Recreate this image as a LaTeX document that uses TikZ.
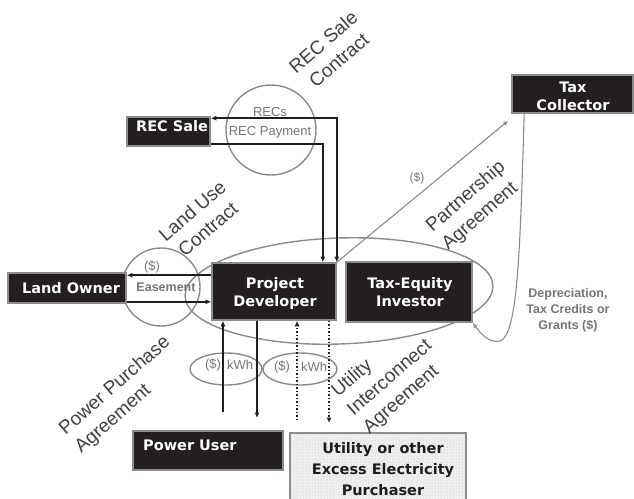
\documentclass[tikz,border=0pt]{standalone}
\usepackage{fontspec}
\setmainfont{Liberation Sans}
\newfontfamily\boxfont{DejaVu Sans}
\usetikzlibrary{shapes.geometric,arrows.meta,patterns}

\definecolor{boxfill}{HTML}{231F20}
\definecolor{boxedge}{HTML}{8C8C8C}
\definecolor{ringgray}{HTML}{8A8A8A}
\definecolor{labelgray}{HTML}{404040}
\definecolor{notegray}{HTML}{757575}
\definecolor{linedark}{HTML}{1E1E1E}

\begin{document}
\begin{tikzpicture}[x=1pt,y=-1pt,
  >={Latex[length=5.5pt,width=5pt]},
  darkbox/.style={draw=boxedge, fill=boxfill, line width=1.6pt, inner sep=0pt},
  lightbox/.style={draw=boxedge, line width=1.6pt, inner sep=0pt,
    preaction={fill=gray!12}, pattern=dots, pattern color=gray!55},
  boxtext/.style={text=white, font=\boxfont\bfseries\fontsize{14.5}{18}\selectfont,
    align=center, inner sep=0pt},
  darktext/.style={boxtext, text=linedark, font=\boxfont\bfseries\fontsize{14.5}{21}\selectfont},
  ring/.style={draw=ringgray, line width=1.4pt, inner sep=0pt},
  flow/.style={draw=linedark, line width=1.5pt},
  thinflow/.style={draw=ringgray, line width=1.1pt, >={Latex[length=5pt,width=4.5pt]}},
  rotlabel/.style={rotate=41, text=labelgray, inner sep=0pt,
    font=\fontsize{19}{24}\selectfont},
  note/.style={text=notegray, inner sep=0pt, font=\fontsize{13}{16}\selectfont},
]
\useasboundingbox (0,0) rectangle (634,498);

% contract rings
\node[ring, circle, minimum size=90pt] (rec-ring) at (271,130) {};
\node[ring, circle, minimum size=78pt] (land-ring) at (161,287) {};
\node[ring, ellipse, rotate=2, minimum width=308pt, minimum height=106pt] (partner-ring) at (339,291) {};
\node[ring, ellipse, minimum width=72pt, minimum height=32pt] (ppa-ring) at (226,369) {};
\node[ring, ellipse, minimum width=74pt, minimum height=32pt] (uia-ring) at (300,369) {};

% parties
\node[darkbox, minimum width=83pt, minimum height=29pt] (recsale) at (168.5,131.5) {};
\node[boxtext] (recsale-t) at (172,126) {REC Sale};
\node[darkbox, minimum width=121pt, minimum height=38pt] (tc) at (572.5,94) {};
\node[boxtext] (tc-t) at (573,96) {Tax\\Collector};
\node[darkbox, minimum width=118pt, minimum height=30pt] (landowner) at (67,288) {};
\node[boxtext] (landowner-t) at (71,288) {Land Owner};
\node[darkbox, minimum width=124pt, minimum height=57pt] (pd) at (274,291.5) {};
\node[boxtext] (pd-t) at (275,293) {Project\\Developer};
\node[darkbox, minimum width=126pt, minimum height=60pt] (tei) at (409,292) {};
\node[boxtext] (tei-t) at (410,292) {Tax-Equity\\Investor};
\node[darkbox, minimum width=150pt, minimum height=39pt] (pu) at (208,450.5) {};
\node[boxtext, anchor=west] (pu-t) at (143,445) {Power User};
\node[lightbox, minimum width=176pt, minimum height=68pt] (ut) at (378,467) {};
\node[darktext] (ut-t) at (383,469) {Utility or other\\Excess Electricity\\Purchaser};

% REC sale flows
\draw[flow,<->] ([yshift=-2pt]recsale.north east) -| (pd.north east);
\draw[flow,->] ([yshift=3pt]recsale.south east) -| ([xshift=-14pt]pd.north east);

% land use flows
\draw[flow,->] ([yshift=-13pt]pd.north west) -- ([yshift=-3pt]landowner.north east);
\draw[flow,->] ([yshift=2pt]landowner.south east) -- ([yshift=19pt]pd.south west);

% power purchase and interconnect flows
\coordinate (pu-pay) at (223,412);
\coordinate (pu-kwh) at (257,418);
\coordinate (ut-pay) at (297,420);
\coordinate (ut-kwh) at (329,423);
\draw[flow,->] (pu-pay) -- (pu-pay |- pd.south);
\draw[flow,->] (pu-kwh |- pd.south) -- (pu-kwh);
\draw[flow,dotted,->] (ut-pay) -- (ut-pay |- pd.south);
\draw[flow,dotted,->] (ut-kwh |- pd.south) -- (ut-kwh);

% tax flows
\draw[thinflow,->] (pd.north east) -- ([xshift=-3pt,yshift=-7pt]tc.south west);
\draw[thinflow,->] ([xshift=13pt]tc.south west) .. controls (520,250) and (518,335) .. (500,341)
  .. controls (490,344) and (480,333) .. (tei.south east);

% ring labels
\node[note] (recs-t) at (270,112) {RECs};
\node[note] (recpay-t) at (270,132) {REC Payment};
\node[note] (land-pay-t) at (152,267) {(\$)};
\node[note, font=\bfseries\fontsize{12.5}{16}\selectfont] (easement-t) at (166,287) {Easement};
\node[note] (ppa-pay-t) at (213,365) {(\$)};
\node[note] (ppa-kwh-t) at (240,365) {kWh};
\node[note] (uia-pay-t) at (282,367) {(\$)};
\node[note] (uia-kwh-t) at (314,367) {kWh};
\node[note, font=\fontsize{12}{14}\selectfont] (tax-pay-t) at (417,178) {(\$)};
\node[note, align=center, font=\bfseries\fontsize{12.5}{16}\selectfont] (benefit-t) at (568,310)
  {Depreciation,\\Tax Credits or\\Grants (\$)};

% contract names
\node[rotlabel, align=center] (rec-contract) at (331,51) {REC Sale\\Contract};
\node[rotlabel, align=center] (land-contract) at (200,220) {Land Use\\Contract};
\node[rotlabel, align=left] (partner-contract) at (474,206) {Partnership\\Agreement};
\node[rotlabel, align=left] (ppa-contract) at (123,395) {Power Purchase\\Agreement};
\node[rotlabel, align=left] (uia-contract) at (390,378) {Utility\\Interconnect\\Agreement};
\end{tikzpicture}
\end{document}
